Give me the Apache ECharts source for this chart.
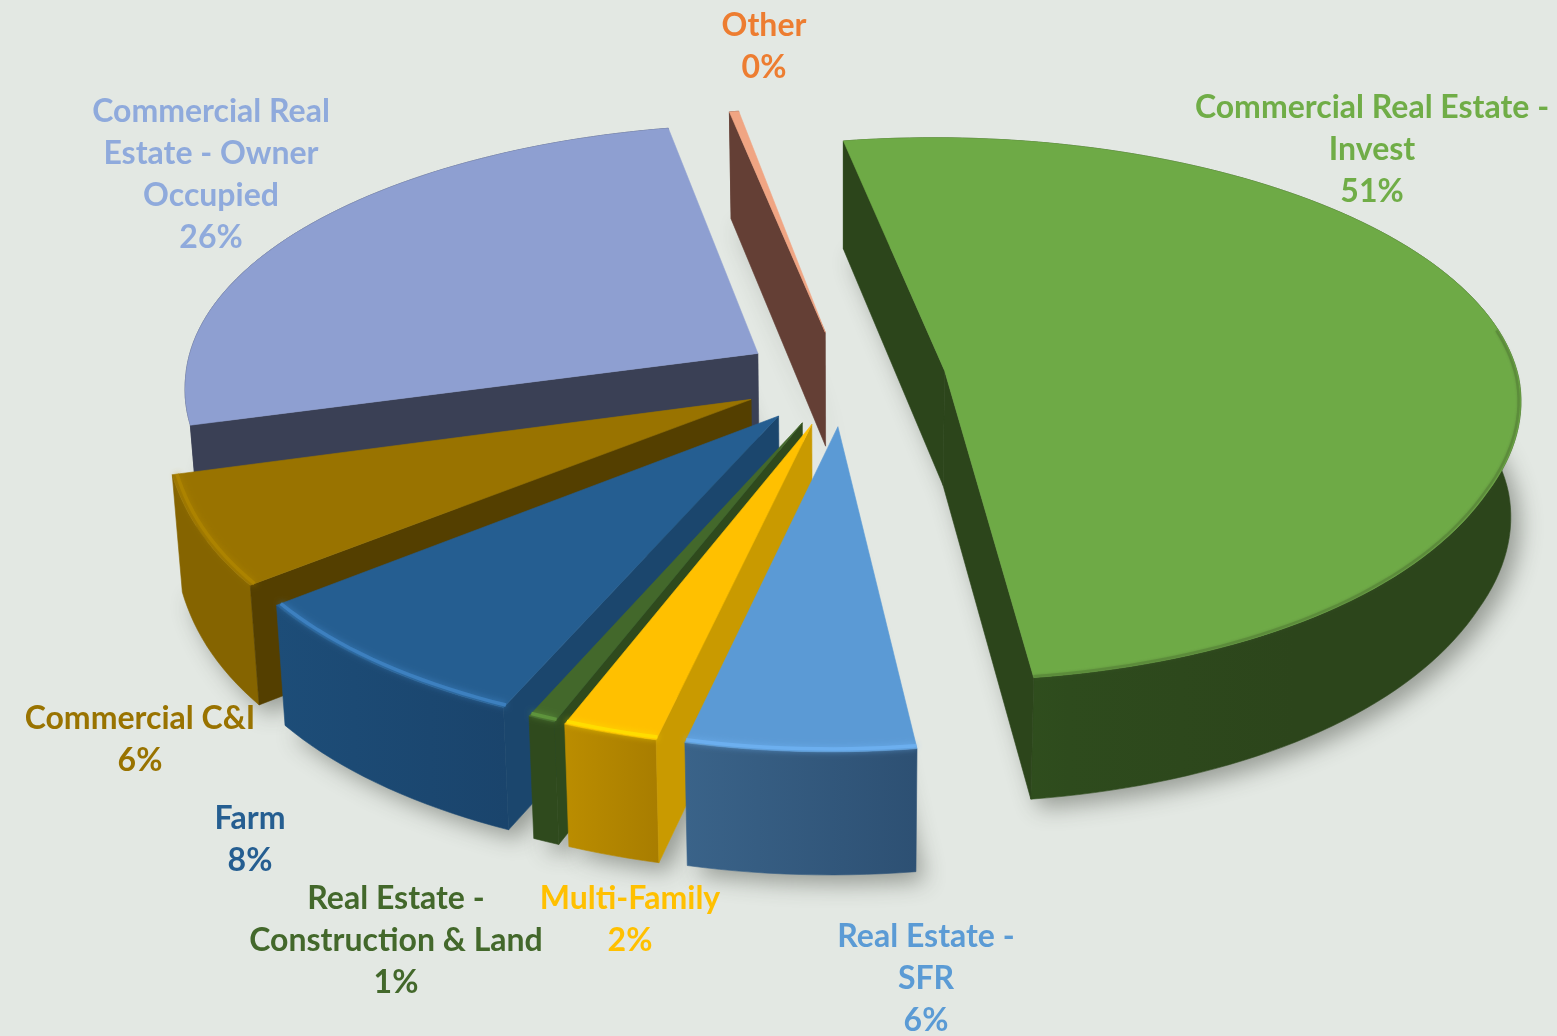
<!DOCTYPE html>
<html><head><meta charset="utf-8">
<style>html,body{margin:0;padding:0;background:#e3e8e3}#c{width:1557px;height:1036px}</style>
<script src="https://cdn.jsdelivr.net/npm/echarts@6/dist/echarts.min.js"></script>
</head><body><div id="c"></div>
<script>
// ---- data (clockwise from the first slice) ----
const categories = ['Commercial Real Estate -\nInvest','Real Estate -\nSFR','Multi-Family','Real Estate -\nConstruction & Land','Farm','Commercial C&I','Commercial Real\nEstate - Owner\nOccupied','Other'];
const values = [50.7, 5.75, 2.4, 0.7, 7.9, 6.1, 26.15, 0.3];

// ---- styles ----
const topColors  = ['#6eaa46','#5b9ad5','#ffc000','#43682b','#255e91','#997300','#8e9fd1','#f0a583'];
const cutColors  = ['#2c451b','#2d5073','#c99a00','#2f4a1d','#1b466d','#543f00','#3a4055','#643f35'];
const wallStops  = [['#35591f','#2e4b1d','#2c451b','#2c451b'],['#3a6389','#2d5073'],['#bb8d00','#a87d00'],['#2f4a1d','#2f4a1d'],['#1d4d78','#1a446c'],['#856400','#856400'],['#3a4055','#3a4055'],['#643f35','#643f35']];
const rimColors  = [null,'#6fb2f2','#ffe000','#62993e','#3f84c4','#ae8500',null,null];
const labelColors= ['#70ad47','#5b9bd5','#ffc000','#43682b','#255e91','#997300','#8faadc','#ed7d31'];
const paintRank  = [8,7,6,5,4,3,2,1];
const labelAnchors = [[1372,108],[926,937],[630,899],[396,899],[250,819],[140,719],[211,112],[764,26]];

// ---- projection of the tilted disc ----
const cx=844, cy=378, R=574, A=267, P=0.138, EXPLODE=0.178, H=115, SHRINK=0.985, FIRST=-10.2;
const total = values.reduce((a,b)=>a+b,0);
const widthScale=Y=>1-0.11*Y;
const heightScale=Y=>1-0.06*Y;
const skewX=Y=>7*Math.min(Y,0);
const lensY=Y=>Y<-0.4?5*Math.sin(Math.PI*(-Y-0.4)/0.7):0;
function projTop(X,Y){const s=1/(1+P*Y);return [cx+skewX(Y)+R*X*widthScale(Y), cy-A*Y*s+lensY(Y)];}
function projBot(X,Y){const p=projTop(X,Y);return [cx+(p[0]-cx)*SHRINK, p[1]+H*heightScale(Y)];}
const rad=d=>d*Math.PI/180;

function renderItem(params, api){
  const i=params.dataIndex, v=api.value(0);
  let before=0; for(let k=0;k<i;k++) before+=values[k];
  const a0=FIRST+before/total*360, a1=a0+v/total*360, mid=rad((a0+a1)/2);
  const ox=EXPLODE*Math.sin(mid), oy=EXPLODE*Math.cos(mid);
  const arcT=[],arcB=[];
  const n=Math.max(2,Math.ceil((a1-a0)/1.5));
  for(let k=0;k<=n;k++){const t=rad(a0+(a1-a0)*k/n);const X=ox+Math.sin(t),Y=oy+Math.cos(t);arcT.push(projTop(X,Y));arcB.push(projBot(X,Y));}
  const apexT=projTop(ox,oy), apexB=projBot(ox,oy);
  const rank=paintRank[i]*10, kids=[];
  const poly=(pts,fill,z,extra)=>({type:'polygon',z2:rank+z,silent:true,shape:{points:pts},style:Object.assign({fill:fill,stroke:fill,lineWidth:0.6},extra||{})});
  // soft cast shadow (under everything)
  kids.push({type:'polygon',z2:1,silent:true,shape:{points:[apexB].concat(arcB)},style:{fill:'#c9cdc8',shadowBlur:22,shadowColor:'rgba(60,65,55,0.45)',shadowOffsetX:9,shadowOffsetY:9}});
  // outer wall
  const stops=wallStops[i];
  const grad={type:'linear',x:0,y:0,x2:1,y2:0,colorStops:stops.map((c,k)=>({offset:k/(stops.length-1),color:c}))};
  kids.push(poly(arcT.concat(arcB.slice().reverse()),grad,1));
  // cut faces, only those that look towards the viewer
  if(Math.sin(rad(a0))<0) kids.push(poly([arcT[0],apexT,apexB,arcB[0]],cutColors[i],2));
  if(Math.sin(rad(a1))>0) kids.push(poly([arcT[n],apexT,apexB,arcB[n]],cutColors[i],2));
  // top
  kids.push(poly([apexT].concat(arcT),topColors[i],3));
  // bevel rim
  if(rimColors[i]){
    const rim=[];
    for(let k=0;k<=n;k++){const t=rad(a0+(a1-a0)*k/n);rim.push(projTop(ox+0.992*Math.sin(t),oy+0.992*Math.cos(t)));}
    kids.push({type:'polyline',z2:rank+4,silent:true,shape:{points:rim},style:{fill:null,stroke:rimColors[i],lineWidth:3.5,opacity:0.85,shadowBlur:6,shadowColor:rimColors[i]}});
  } else if(i===0){
    const rim=[];
    for(let k=0;k<=n;k++){const d=a0+(a1-a0)*k/n,t=rad(d);if(d>80)rim.push(projTop(ox+0.996*Math.sin(t),oy+0.996*Math.cos(t)));}
    kids.push({type:'polyline',z2:rank+4,silent:true,shape:{points:rim},style:{fill:null,stroke:'#4d7433',lineWidth:2.5,opacity:0.4,shadowBlur:3,shadowColor:'#4d7433'}});
  }
  // label
  const pct=Math.round(v/total*100)+'%';
  kids.push({type:'text',z2:200,silent:true,x:labelAnchors[i][0],y:labelAnchors[i][1]-21,style:{text:categories[i]+'\n'+pct,fill:labelColors[i],font:'bold 32px Lato, "Open Sans", sans-serif',align:'center',verticalAlign:'top',lineHeight:42}});
  return {type:'group',children:kids};
}

const chart=echarts.init(document.getElementById('c'),null,{renderer:'canvas',width:1557,height:1036});
chart.setOption({
  animation:false,
  backgroundColor:'#e3e8e3',
  series:[{type:'custom',coordinateSystem:'none',renderItem:renderItem,data:values,silent:true,clip:false}]
});
</script></body></html>
